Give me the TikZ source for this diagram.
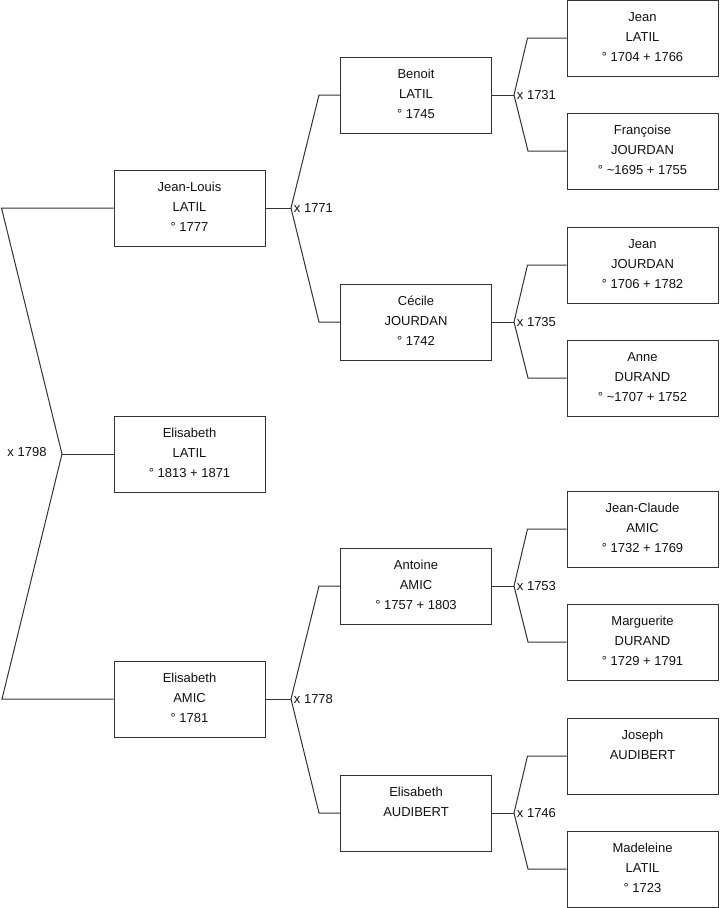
\documentclass[tikz,border=0pt]{standalone}
\usepackage{fontspec}
\setmainfont{Liberation Sans}
\usetikzlibrary{positioning}
\definecolor{treeline}{HTML}{333333}
\definecolor{treeink}{HTML}{111111}

\tikzset{
  personbox/.style={draw=treeline,line width=0.75pt,minimum width=113.25pt,minimum height=57pt,
    inner sep=0pt,text depth=2pt,align=center,text=treeink,font=\fontsize{9.75}{15}\selectfont},
  branchline/.style={draw=treeline,line width=0.75pt},
  unionlabel/.style={anchor=west,inner sep=2pt,text=treeink,font=\fontsize{9.75}{11}\selectfont}
}

\begin{document}
\begin{tikzpicture}[x=0.75pt,y=-0.75pt]
  \useasboundingbox (0,0) rectangle (719,908);

  % generation 1
  \node[personbox] (elisabethlatil) at (189.5,454) {Elisabeth\\LATIL\\° 1813 + 1871};

  % generation 2
  \node[personbox] (jeanlouis) at (189.5,208) {Jean-Louis\\LATIL\\° 1777};
  \node[personbox] (elisabethamic) at (189.5,699) {Elisabeth\\AMIC\\° 1781};

  % generation 3
  \node[personbox] (benoit) at (416,95) {Benoit\\LATIL\\° 1745};
  \node[personbox] (cecile) at (416,322) {Cécile\\JOURDAN\\° 1742};
  \node[personbox] (antoine) at (416,586) {Antoine\\AMIC\\° 1757 + 1803};
  \node[personbox] (elisabethaudibert) at (416,813) {Elisabeth\\AUDIBERT\\\mbox{}};

  % generation 4
  \node[personbox] (jeanlatil) at (642.5,38) {Jean\\LATIL\\° 1704 + 1766};
  \node[personbox] (francoise) at (642.5,151) {Françoise\\JOURDAN\\° \textasciitilde1695 + 1755};
  \node[personbox] (jeanjourdan) at (642.5,265) {Jean\\JOURDAN\\° 1706 + 1782};
  \node[personbox] (anne) at (642.5,378) {Anne\\DURAND\\° \textasciitilde1707 + 1752};
  \node[personbox] (jeanclaude) at (642.5,529) {Jean-Claude\\AMIC\\° 1732 + 1769};
  \node[personbox] (marguerite) at (642.5,642) {Marguerite\\DURAND\\° 1729 + 1791};
  \node[personbox] (joseph) at (642.5,756) {Joseph\\AUDIBERT\\\mbox{}};
  \node[personbox] (madeleine) at (642.5,869) {Madeleine\\LATIL\\° 1723};

  % unions
  \coordinate (u1798) at (62,454);
  \draw[branchline] (jeanlouis.west) -- ++(-112,0) -- (u1798) -- (2,699) -- (elisabethamic.west);
  \draw[branchline] (u1798) -- (elisabethlatil.west);
  \node[font=\fontsize{9.75}{11}\selectfont,text=treeink] (l1798) at (27,452) {x 1798};

  \coordinate (u1771) at (291,208);
  \draw[branchline] (jeanlouis.east) -- (u1771);
  \draw[branchline] (benoit.west) -- ++(-21,0) -- (u1771) -- (319,322) -- (cecile.west);
  \node[unionlabel] (l1771) at (u1771) {x 1771};

  \coordinate (u1778) at (291,699);
  \draw[branchline] (elisabethamic.east) -- (u1778);
  \draw[branchline] (antoine.west) -- ++(-21,0) -- (u1778) -- (319,813) -- (elisabethaudibert.west);
  \node[unionlabel] (l1778) at (u1778) {x 1778};

  \coordinate (u1731) at (514,95);
  \draw[branchline] (benoit.east) -- (u1731);
  \draw[branchline] (jeanlatil.west) -- ++(-39,0) -- (u1731) -- (528,151) -- (francoise.west);
  \node[unionlabel] (l1731) at (u1731) {x 1731};

  \coordinate (u1735) at (514,322);
  \draw[branchline] (cecile.east) -- (u1735);
  \draw[branchline] (jeanjourdan.west) -- ++(-39,0) -- (u1735) -- (528,378) -- (anne.west);
  \node[unionlabel] (l1735) at (u1735) {x 1735};

  \coordinate (u1753) at (514,586);
  \draw[branchline] (antoine.east) -- (u1753);
  \draw[branchline] (jeanclaude.west) -- ++(-39,0) -- (u1753) -- (528,642) -- (marguerite.west);
  \node[unionlabel] (l1753) at (u1753) {x 1753};

  \coordinate (u1746) at (514,813);
  \draw[branchline] (elisabethaudibert.east) -- (u1746);
  \draw[branchline] (joseph.west) -- ++(-39,0) -- (u1746) -- (528,869) -- (madeleine.west);
  \node[unionlabel] (l1746) at (u1746) {x 1746};
\end{tikzpicture}
\end{document}
